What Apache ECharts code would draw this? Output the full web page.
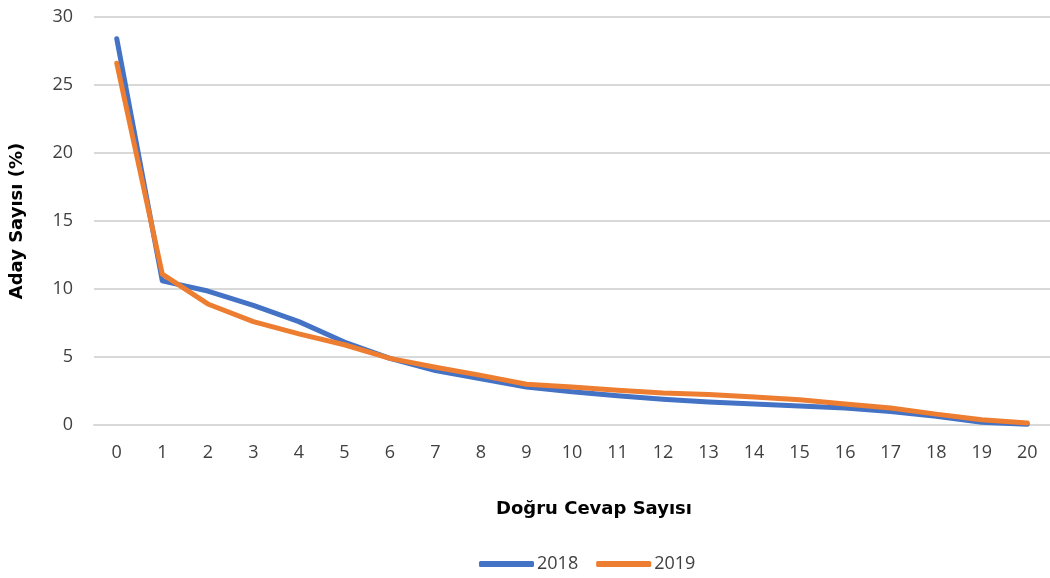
<!DOCTYPE html>
<html><head><meta charset="utf-8">
<script src="https://cdn.jsdelivr.net/npm/echarts@6/dist/echarts.min.js"></script>
<style>html,body{margin:0;padding:0;background:#fff}#c{width:1050px;height:578px}</style>
</head><body><div id="c"></div>
<script>
var categories = ['0','1','2','3','4','5','6','7','8','9','10','11','12','13','14','15','16','17','18','19','20'];
var s2018 = [28.4,10.6,9.85,8.8,7.6,6.1,4.9,4.0,3.4,2.8,2.45,2.15,1.9,1.7,1.55,1.4,1.25,1.0,0.65,0.2,0.05];
var s2019 = [26.6,11.1,8.9,7.6,6.7,5.9,4.9,4.25,3.65,3.0,2.8,2.55,2.35,2.25,2.05,1.85,1.55,1.25,0.8,0.38,0.15];
var yTicks = {min:0, max:30, interval:5};
var font = '"Open Sans", Lato, sans-serif';
var titleFont = '"DejaVu Sans", "Open Sans", sans-serif';
var chart = echarts.init(document.getElementById('c'));
chart.setOption({
  animation:false,
  textStyle:{fontFamily:font},
  grid:{left:93, width:961, top:17, bottom:153},
  title:{text:'Doğru Cevap Sayısı', left:589, top:495, textAlign:'center',
    textStyle:{fontSize:18, fontWeight:'bold', color:'#000', fontFamily:titleFont}},
  legend:{bottom:0, left:474, itemWidth:55, itemHeight:6, itemGap:18, icon:'roundRect',
    textStyle:{fontSize:18, color:'#404040', fontFamily:font, padding:[0,0,0,-2]},
    data:['2018','2019']},
  xAxis:{type:'category', data:categories, boundaryGap:true,
    axisLine:{lineStyle:{color:'#d9d9d9', width:2}}, axisTick:{show:false},
    axisLabel:{fontSize:18, color:'#404040', margin:19}},
  yAxis:{type:'value', min:yTicks.min, max:yTicks.max, interval:yTicks.interval,
    name:'Aday Sayısı (%)', nameLocation:'middle', nameGap:68,
    nameTextStyle:{fontSize:18, fontWeight:'bold', color:'#000', fontFamily:titleFont},
    axisLine:{show:false}, axisTick:{show:false},
    axisLabel:{fontSize:18, color:'#404040', margin:21},
    splitLine:{lineStyle:{color:'#d9d9d9', width:2}}},
  series:[
    {name:'2018', type:'line', data:s2018, showSymbol:false, symbol:'none',
      lineStyle:{color:'#4472c4', width:5, cap:'round', join:'round'}, itemStyle:{color:'#4472c4'}},
    {name:'2019', type:'line', data:s2019, showSymbol:false, symbol:'none',
      lineStyle:{color:'#ed7d31', width:5, cap:'round', join:'round'}, itemStyle:{color:'#ed7d31'}}
  ]
});
</script></body></html>
